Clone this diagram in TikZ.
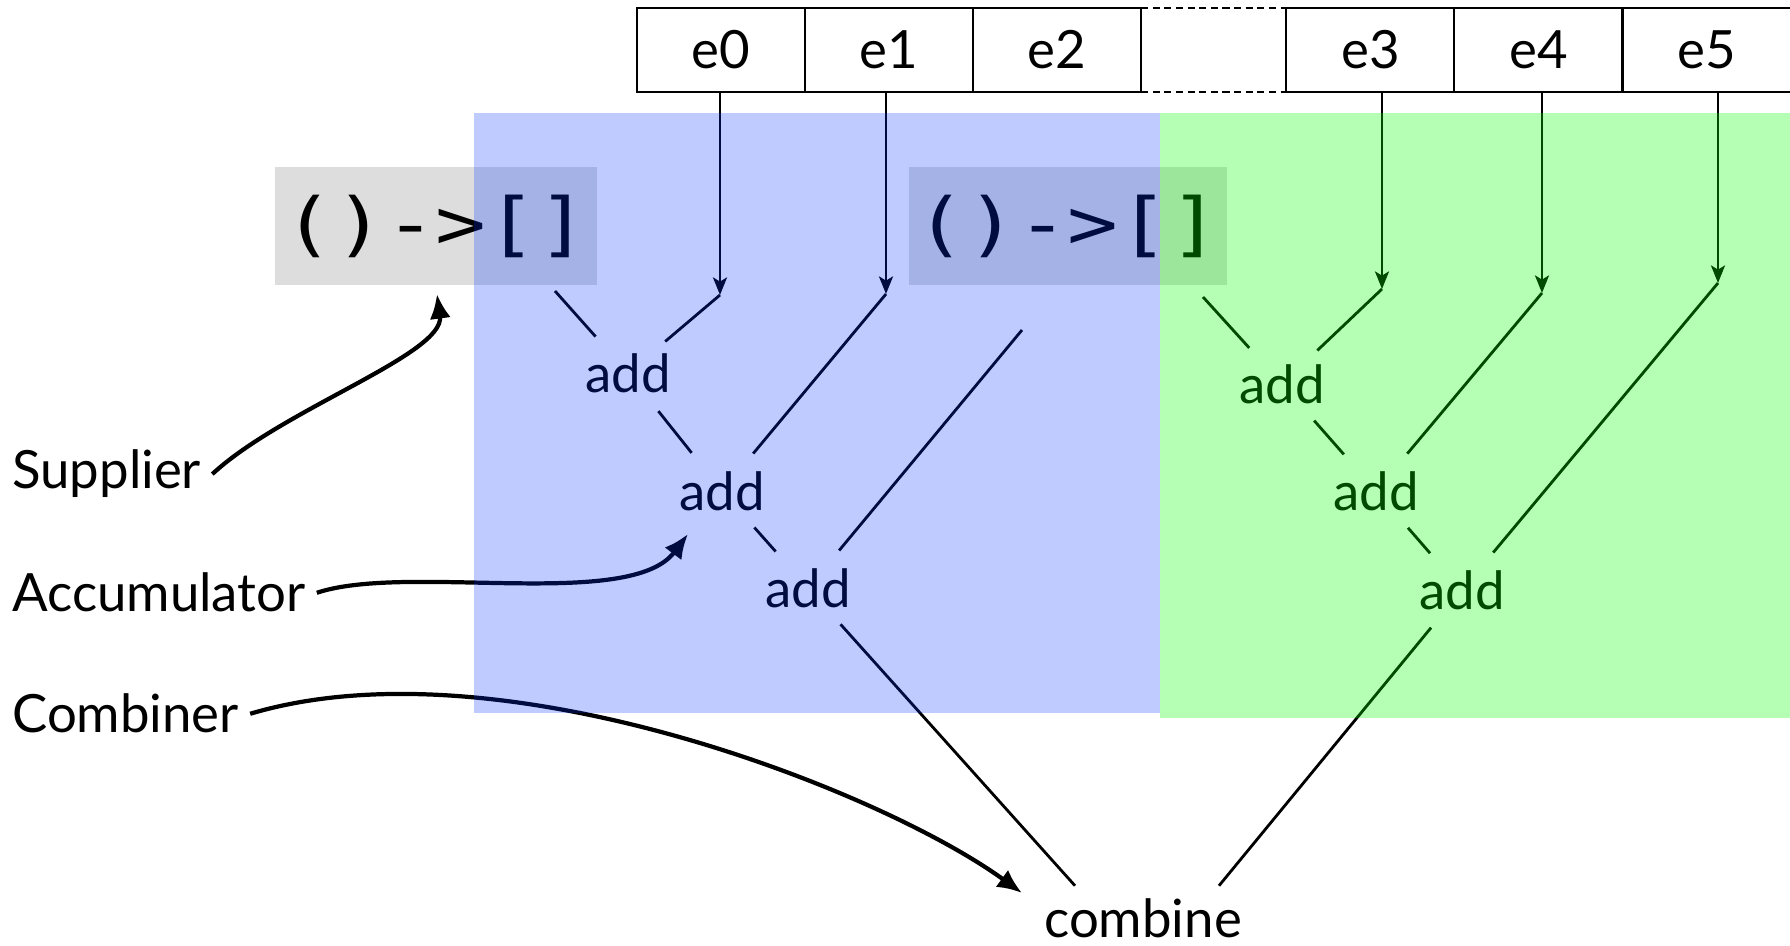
\documentclass[tikz,border=0pt]{standalone}
\usepackage{fontspec}
\setmainfont{Lato}
\newfontfamily\lambdafont[FakeStretch=1.2]{DejaVu Sans Mono}
\usetikzlibrary{arrows.meta,positioning,calc}

\definecolor{supgray}{HTML}{DDDDDD}
\definecolor{laneblue}{RGB}{0,50,255}
\definecolor{lanegreen}{RGB}{0,255,0}

\begin{document}
\begin{tikzpicture}[
    x=0.01cm, y=-0.01cm,
    font=\fontsize{15}{18}\selectfont,
    cell/.style={draw, line width=0.6pt, minimum width=1.68cm, minimum height=0.84cm, inner sep=0pt, outer sep=0pt},
    supplier/.style={fill=supgray, minimum width=3.22cm, minimum height=1.18cm, inner sep=0pt, font=\lambdafont\fontsize{20}{24}\selectfont},
    addop/.style={circle, inner sep=0pt, minimum size=0.96cm},
    lbl/.style={anchor=base west, inner sep=3pt},
    feed/.style={line width=0.8pt},
    elem/.style={-{Stealth[length=5pt,width=4pt,inset=1.2pt]}, line width=0.7pt},
    gapline/.style={line width=0.6pt, dash pattern=on 2pt off 1.3pt},
    callout/.style={-{Latex[length=7pt,width=6pt]}, line width=1.2pt},
    lane/.style={fill opacity=0.25, fill=laneblue},
    lanealt/.style={fill opacity=0.29, fill=lanegreen}
]
\fill[white, use as bounding box] (0,0) rectangle (1790,946);

% ------------------------
% Source elements
% ------------------------
\node[cell] (e0) at (721,50) {e0};
\node[cell, right=0pt of e0] (e1) {e1};
\node[cell, right=0pt of e1] (e2) {e2};
\node[cell, right=1.45cm of e2] (e3) {e3};
\node[cell, right=0pt of e3] (e4) {e4};
\node[cell, right=0pt of e4] (e5) {e5};

\draw[gapline] (e2.north east) -- (e3.north west);
\draw[gapline] (e2.south east) -- (e3.south west);

% ------------------------
% Suppliers and reduction nodes
% ------------------------
\node[supplier] (sup1) at (436,226) {()->[]};
\node[supplier, minimum width=3.18cm] (sup2) at (1068,226) {()->[]};

\node[addop] (a1) at (628,373) {add};
\node[addop] (a2) at (722,491) {add};
\node[addop] (a3) at (808,588) {add};

\node[addop] (g1) at (1282,384) {add};
\node[addop] (g2) at (1376,491) {add};
\node[addop] (g3) at (1462,590) {add};

\node[anchor=base] (combine) at (1143,937) {combine};

% arrow tips and loose ends
\coordinate (t0) at (720,295);
\coordinate (t1) at (886,294);
\coordinate (t3) at (1382,289);
\coordinate (t4) at (1542,293);
\coordinate (t5) at (1718,283);
\coordinate (s1) at (555,291);
\coordinate (s2) at (1203,297);
\coordinate (loose) at (1022,330);
\coordinate (cl) at ($(combine.north)+(-68,0)$);
\coordinate (cr) at ($(combine.north)+(76,0)$);

\draw[elem] (e0.south -| t0) -- (t0);
\draw[elem] (e1.south -| t1) -- (t1);
\draw[elem] (e3.south -| t3) -- (t3);
\draw[elem] (e4.south -| t4) -- (t4);
\draw[elem] (e5.south -| t5) -- (t5);

% first chunk
\draw[feed] (s1) -- (a1);
\draw[feed] (t0) -- (a1);
\draw[feed] (a1) -- (a2);
\draw[feed] (t1) -- (a2);
\draw[feed] (a2) -- (a3);
\draw[feed] (loose) -- (a3);
\draw[feed] (a3) -- (cl);

% second chunk
\draw[feed] (s2) -- (g1);
\draw[feed] (t3) -- (g1);
\draw[feed] (g1) -- (g2);
\draw[feed] (t4) -- (g2);
\draw[feed] (g2) -- (g3);
\draw[feed] (t5) -- (g3);
\draw[feed] (g3) -- (cr);

% ------------------------
% Callouts
% ------------------------
\node[lbl] (supplier) at (1,489) {Supplier};
\node[lbl] (accumulator) at (1,612) {Accumulator};
\node[lbl] (combiner) at (1,733) {Combiner};

\coordinate (supTip) at (437,294);
\coordinate (accTip) at (688,534);
\coordinate (cmbTip) at (1022,893);

\draw[callout] (supplier.east) .. controls +(70,-65) and +(8,60) .. (supTip);
\draw[callout] (accumulator.east) .. controls +(90,-30) and +(-58,77) .. (accTip);
\draw[callout] (combiner.east) .. controls +(248,-74) and +(-142,-103) .. (cmbTip);

% ------------------------
% Chunk lanes (tinted on top)
% ------------------------
\fill[lane] (474,113) rectangle (1160,713);
\fill[lanealt] (1160,113) rectangle (1790,718);

\end{tikzpicture}
\end{document}
